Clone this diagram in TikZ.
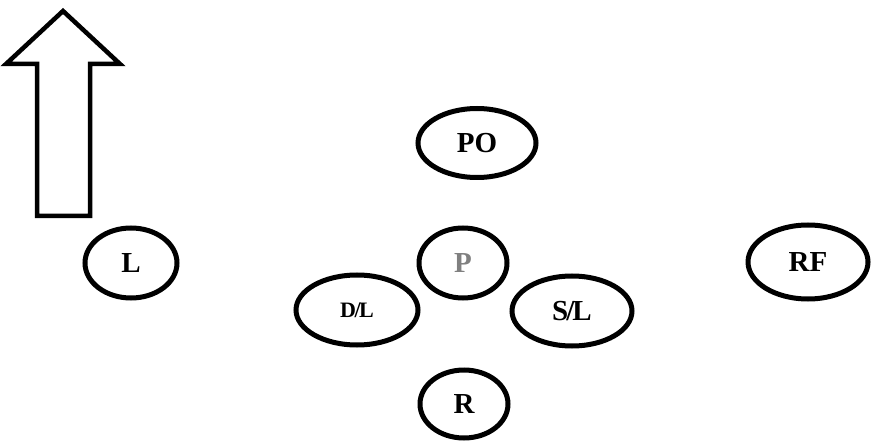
\documentclass[tikz,border=0pt]{standalone}
\usepackage{fontspec}
\setmainfont{Liberation Serif}
\usetikzlibrary{shapes.geometric}
\begin{document}
\begin{tikzpicture}[x=1pt,y=-1pt,
  player/.style={draw=black,line width=5pt,ellipse,inner sep=0pt,
    font=\fontsize{29}{31}\selectfont\bfseries},
  bigarrow/.style={draw=black,line width=4.5pt,line join=miter,fill=white}]
\useasboundingbox (0,0) rectangle (874,443);
% direction-of-play arrow
\draw[bigarrow] (63,11) -- (120,64) -- (90,64) -- (90,216) -- (37,216)
  -- (37,64) -- (6,64) -- cycle;
% positions
\node[player,minimum width=118pt,minimum height=69pt] (PO) at (477,143) {PO};
\node[player,minimum width=88pt,minimum height=70pt,text=black!50] (P) at (463,263) {P};
\node[player,minimum width=122pt,minimum height=70pt,font=\fontsize{22}{24}\selectfont\bfseries] (DL) at (357,310) {D\kern-1.5pt/\kern-1.5pt L\hspace{8pt}};
\node[player,minimum width=120pt,minimum height=70pt] (SL) at (572,311) {S\kern-2pt/\kern-2pt L};
\node[player,minimum width=88pt,minimum height=68pt] (R) at (464,404) {R};
\node[player,minimum width=92pt,minimum height=70pt] (L) at (131,263) {L};
\node[player,minimum width=120pt,minimum height=74pt] (RF) at (808,262) {RF};
\end{tikzpicture}
\end{document}
